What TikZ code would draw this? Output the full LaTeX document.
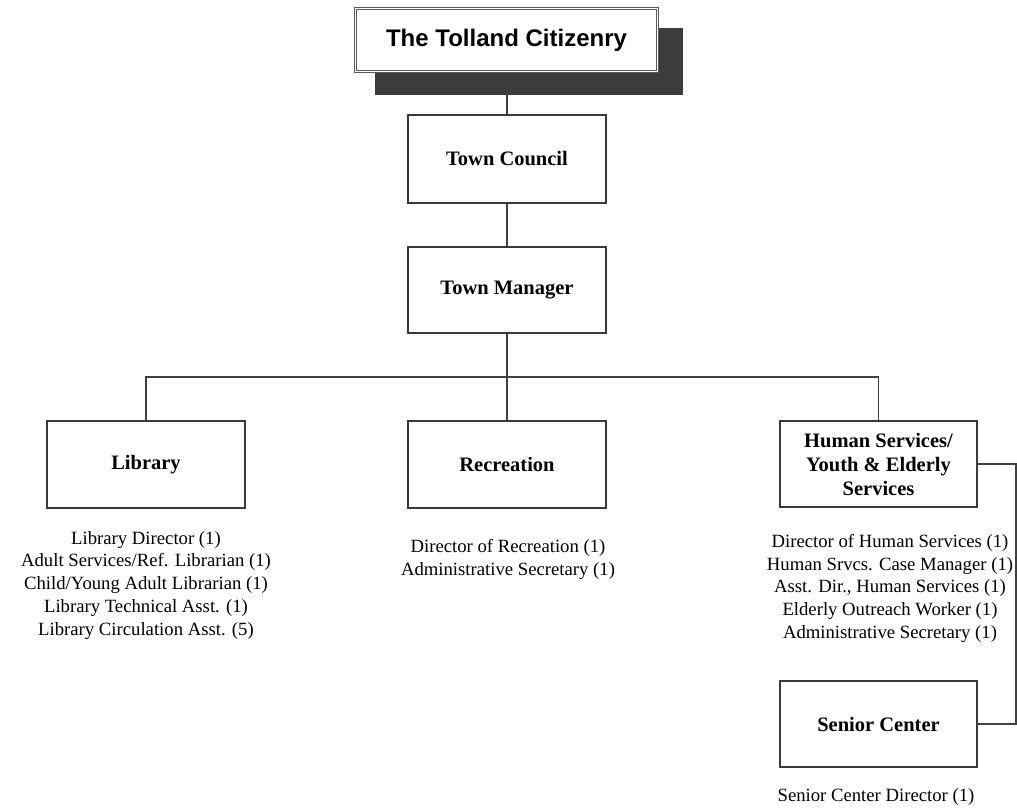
\documentclass[tikz,border=0pt]{standalone}
\usepackage{fontspec}
\setmainfont{Liberation Serif}
\newfontfamily\arialfont{Liberation Sans}
\definecolor{boxline}{HTML}{3A3A3A}
\definecolor{shadowgray}{HTML}{3C3C3C}
\definecolor{conn}{HTML}{404040}
\tikzset{
  orgbox/.style={draw=boxline, line width=1.5pt, fill=white, minimum width=198pt, inner sep=2pt,
    font=\fontsize{20.5}{25}\selectfont\bfseries, align=center},
  stafflist/.style={font=\fontsize{18.7}{22.8}\selectfont, align=center, inner sep=0pt, anchor=north},
  link/.style={draw=conn, line width=1.3pt},
}
\begin{document}
\begin{tikzpicture}[x=1pt,y=-1pt]
\useasboundingbox[fill=white] (0,0) rectangle (1017,807);
% shadow and top box
\node[fill=shadowgray, minimum width=308pt, minimum height=67pt, inner sep=0pt] (shadow) at (529,61.5) {};
\node[draw=gray!70!black, line width=1pt, double=white, double distance=1.8pt, fill=white,
      minimum width=302pt, minimum height=63pt, inner sep=0pt,
      font=\arialfont\fontsize{24}{28}\selectfont\bfseries] (citizen) at (506.5,40) {The Tolland Citizenry};
% main chain
\node[orgbox, minimum height=88pt] (council) at (507,159) {Town Council};
\node[orgbox, minimum height=86pt] (manager) at (507,290) {Town Manager};
% departments
\node[orgbox, minimum height=87pt] (library) at (146,464.5) {Library};
\node[orgbox, minimum height=87pt] (recreation) at (507,464.5) {Recreation};
\node[orgbox, minimum height=86pt, minimum width=197pt] (human) at (878.5,464) {Human Services/\\[-1pt]Youth \& Elderly\\[-1pt]Services};
\node[orgbox, minimum height=86pt, minimum width=197pt] (senior) at (878.5,724) {Senior Center};
% connectors
\draw[link] (shadow.south -| council.north) -- (council.north);
\draw[link] (council.south) -- (manager.north);
\coordinate (bus) at (507,377);
\draw[link] (manager.south) -- (bus);
\draw[link] (library.north) |- (bus) -| (human.north);
\draw[link] (bus) -- (recreation.north);
\coordinate (rightbus) at (1016,464);
\draw[link] (human.east) -- (rightbus) |- (senior.east);
% staff lists
\node[stafflist] (liblist) at (146,531) {Library Director (1)\\Adult Services/Ref. Librarian (1)\\Child/Young Adult Librarian (1)\\Library Technical Asst. (1)\\Library Circulation Asst. (5)};
\node[stafflist] (reclist) at (508,539) {Director of Recreation (1)\\Administrative Secretary (1)};
\node[stafflist] (humlist) at (890,534) {Director of Human Services (1)\\Human Srvcs. Case Manager (1)\\Asst. Dir., Human Services (1)\\Elderly Outreach Worker (1)\\Administrative Secretary (1)};
\node[stafflist] (senlist) at (876,788) {Senior Center Director (1)};
\end{tikzpicture}
\end{document}
